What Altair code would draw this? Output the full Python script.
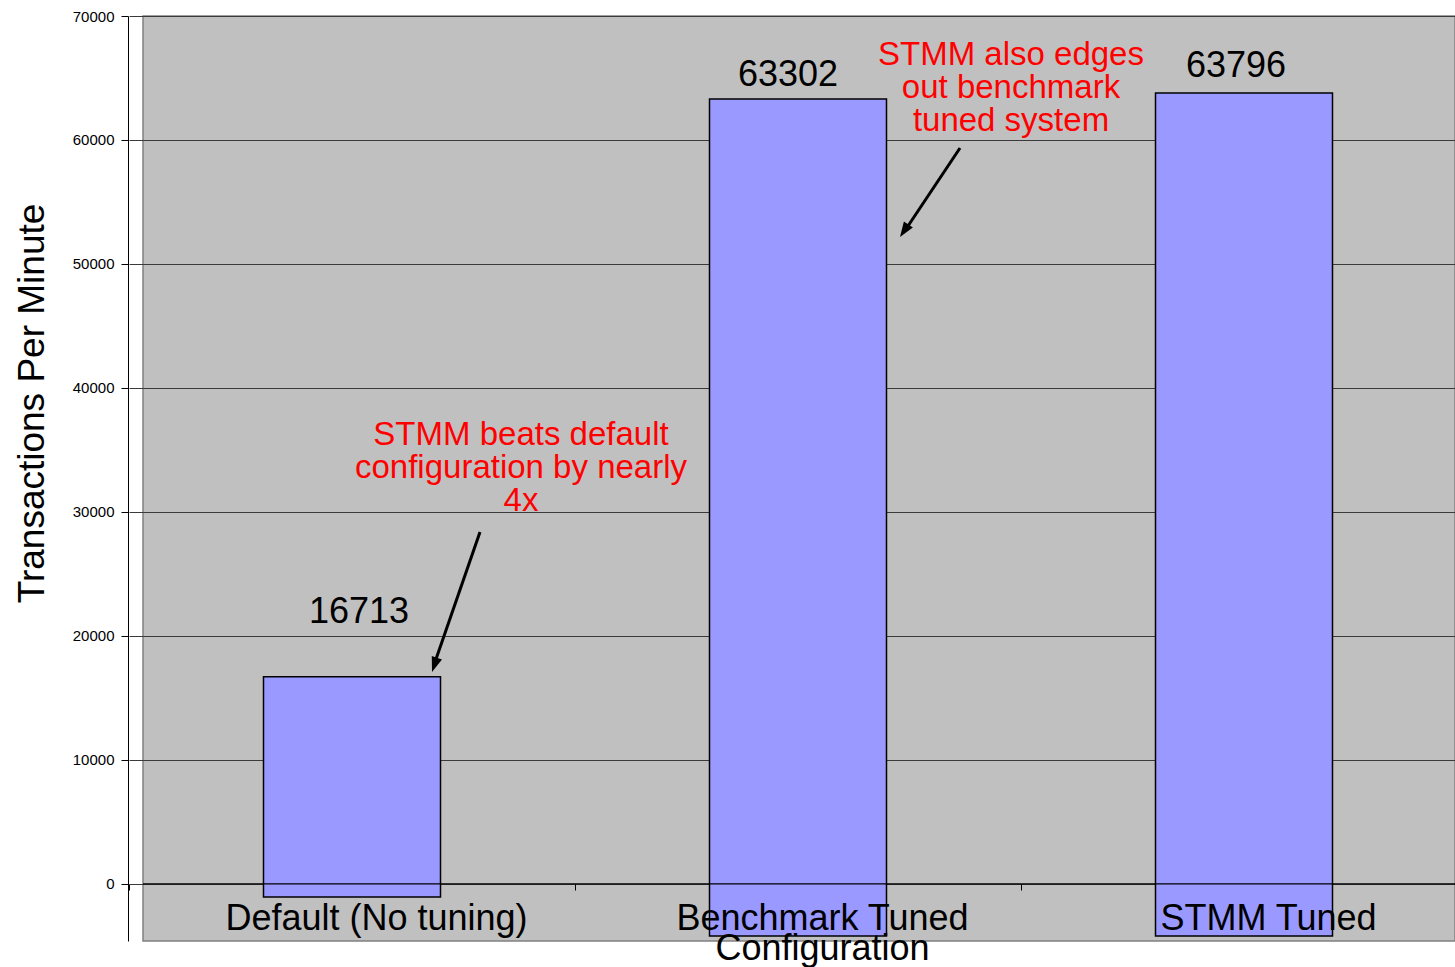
import altair as alt
import pandas as pd

# Benchmark results (transactions per minute) for three memory configurations
categories = ["Default (No tuning)", "Benchmark Tuned|Configuration", "STMM Tuned"]
tpm = [16713, 63302, 63796]
bar_floor = [-1050, -4200, -4200]
y_ticks = [0, 10000, 20000, 30000, 40000, 50000, 60000, 70000]

note_default = ["STMM beats default", "configuration by nearly", "4x"]
note_benchmark = ["STMM also edges", "out benchmark", "tuned system"]

df = pd.DataFrame({"category": categories, "tpm": tpm, "floor": bar_floor})

PLOT_W, PLOT_H = 1312, 925
SANS = "Liberation Sans, Arial, sans-serif"
NARROW = "Liberation Sans Narrow, Arial Narrow, Liberation Sans, sans-serif"

x_scale = alt.Scale(domain=categories, range=[-14, 1324], paddingInner=0, paddingOuter=0)
y_scale = alt.Scale(domain=[-4600, 70000], nice=False, zero=False)

x_axis = alt.Axis(
    title=None, orient="bottom", offset=-57, domain=False,
    ticks=True, tickBand="extent", tickSize=6, tickColor="black", tickWidth=1,
    labelFont=SANS, labelFontSize=36, labelColor="black", labelAngle=0,
    labelPadding=11, labelOffset=24, labelLimit=700, labelLineHeight=30,
    labelOverlap=False, labelBound=False,
    labelExpr="split(datum.label, '|')", zindex=1,
)
y_axis = alt.Axis(
    title="Transactions Per Minute", values=y_ticks, format="d",
    offset=15, domainColor="black", domainWidth=1,
    tickColor="black", tickSize=7, tickWidth=1,
    labelFont=SANS, labelFontSize=15, labelColor="black", labelPadding=7,
    grid=True, gridColor="#3a3a3a", gridWidth=1,
    titleFont=SANS, titleFontSize=37, titleFontWeight="normal", titleColor="black",
    titleAngle=270, titleAlign="center", titleBaseline="middle",
    titleX=-96, titleY=387,
)

base = alt.Chart(df)

bars = base.mark_bar(width=177, fill="#9999FF", stroke="black", strokeWidth=1.5).encode(
    x=alt.X("category:N", sort=categories, scale=x_scale, axis=x_axis),
    y=alt.Y("tpm:Q", scale=y_scale, axis=y_axis),
    y2="floor:Q",
)

# zero line drawn over the bars
zero = alt.Chart(pd.DataFrame({"z": [0]})).mark_rule(color="black", strokeWidth=1.2).encode(
    y=alt.Y("z:Q", scale=y_scale)
)

# value labels, each nudged to its own spot above the bar
label_nudge = {categories[0]: (7, -54), categories[1]: (-10, -13), categories[2]: (-8, -16)}
value_labels = []
for cat, (ddx, ddy) in label_nudge.items():
    value_labels.append(
        base.transform_filter(alt.datum.category == cat)
        .mark_text(font=SANS, fontSize=36, color="black", align="center",
                   baseline="alphabetic", dx=ddx, dy=ddy)
        .encode(
            x=alt.X("category:N", sort=categories, scale=x_scale),
            y=alt.Y("tpm:Q", scale=y_scale),
            text=alt.Text("tpm:Q", format="d"),
        )
    )

one = alt.Chart(pd.DataFrame({"k": [0]}))


def note(lines, cat, ddx, anchor):
    return one.mark_text(
        text=lines, font=NARROW, fontSize=33, color="#FF0000", align="center",
        baseline="alphabetic", lineHeight=33, dx=ddx,
    ).encode(
        x=alt.X("c:N", scale=x_scale),
        y=alt.Y("a:Q", scale=y_scale),
    ).transform_calculate(c=f"'{cat}'", a=str(anchor))


notes = [
    note(note_default, categories[0], 169, 35400),
    note(note_benchmark, categories[1], 213, 66050),
]

HEAD = "M0,0L-0.9,2.5L0.9,2.5Z"


def arrow(x0, y0, x1, y1, tx, ty, ang):
    shaft = one.mark_rule(color="black", strokeWidth=3).encode(
        x=alt.value(x0), y=alt.value(y0), x2=alt.value(x1), y2=alt.value(y1)
    )
    head = one.mark_point(shape=HEAD, filled=True, size=144, color="black",
                          opacity=1, angle=ang).encode(x=alt.value(tx), y=alt.value(ty))
    return shaft + head


arrows = [
    arrow(337, 516, 292, 646, 289, 656, 199),
    arrow(817, 132, 763, 213, 757, 221, 214),
]

chart = alt.layer(bars, zero, *value_labels, *notes, *arrows).properties(
    width=PLOT_W, height=PLOT_H,
    autosize=alt.AutoSizeParams(type="none"),
    padding={"left": 143, "top": 16, "right": 0, "bottom": 26},
    background="white",
).configure(
    font=SANS,
    view=alt.ViewConfig(fill="#C0C0C0", stroke="#808080", strokeWidth=1.5),
)

chart.save("out.html", embed_options={"renderer": "svg", "actions": False})
